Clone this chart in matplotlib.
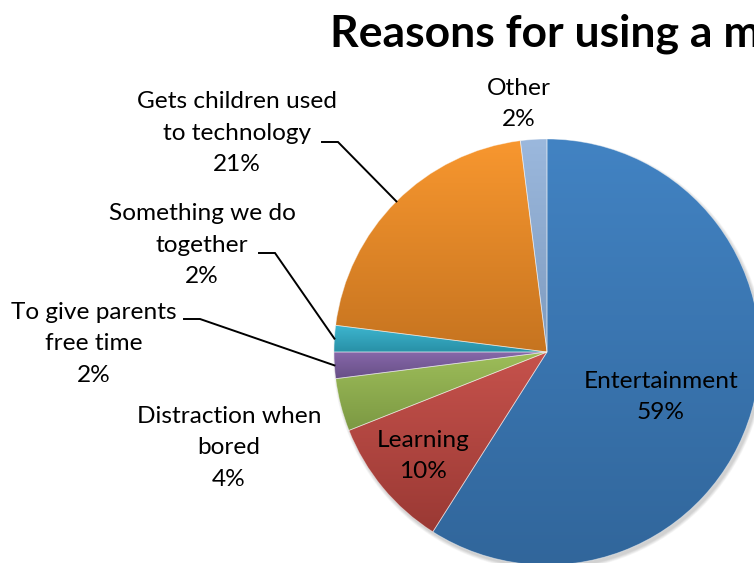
import numpy as np
import matplotlib
matplotlib.use("Agg")
from matplotlib import pyplot as plt
from matplotlib.colors import LinearSegmentedColormap
from matplotlib.patches import Circle

labels = ["Entertainment", "Learning", "Distraction when\nbored",
          "To give parents\nfree time", "Something we do\ntogether",
          "Gets children used\nto technology", "Other"]
values = [59, 10, 4, 2, 2, 21, 2]
# light (top) / dark (bottom) shade of each slice
tops = ["#4283c3", "#c6524c", "#9ebe5a", "#8668a9", "#3eb6d0", "#f8972f", "#9bb8dd"]
bottoms = ["#31669b", "#9a3934", "#7c9943", "#674e86", "#2890a6", "#c67420", "#7e9bbf"]

W, H = 754, 563
cx, cy, R = 547, H - 352, 213

plt.rcParams["font.family"] = ["Lato", "DejaVu Sans"]
fig = plt.figure(figsize=(W / 100, H / 100), dpi=100)
ax = fig.add_axes([0, 0, 1, 1])

# soft drop shadow
for k in range(6):
    ax.add_patch(Circle((cx + 2, cy - 3), R + 3 - k * 0.6, color="#000000",
                        alpha=0.03, lw=0, zorder=0))

wedges, _ = ax.pie(values, startangle=90, counterclock=False, center=(cx, cy),
                   radius=R, wedgeprops=dict(edgecolor=(1, 1, 1, 0.45), linewidth=0.6))

for w, c0, c1 in zip(wedges, tops, bottoms):
    w.set_facecolor("none")
    ext = w.get_path().get_extents()
    cmap = LinearSegmentedColormap.from_list("g", [c1, c0])
    grad = np.linspace(0, 1, 256).reshape(-1, 1)
    im = ax.imshow(grad, cmap=cmap, origin="lower", aspect="auto",
                   extent=(ext.x0, ext.x1, ext.y0, ext.y1), zorder=1,
                   interpolation="bilinear")
    im.set_clip_path(w)
    w.set_zorder(2)

ax.set_xlim(0, W)
ax.set_ylim(0, H)
ax.set_aspect("equal")
ax.axis("off")

def mid_point(w, r=R):
    a = np.deg2rad((w.theta1 + w.theta2) / 2)
    return cx + r * np.cos(a), cy + r * np.sin(a)

txt = [f"{l}\n{v}%" for l, v in zip(labels, values)]
fs = 17.6
ls = 1.63
# text block centres (x, y from top)
pos = [(661, 397), (423, 456), (229, 448), (94, 344), (202, 245), (237, 133), (519, 104)]
for t, (px, py) in zip(txt, pos):
    ax.text(px, H - py, t, ha="center", va="center", fontsize=fs,
            linespacing=ls, color="black", zorder=5)

# leader lines for the small outside labels
leaders = {3: (184, 200, 319), 4: (259, 275, 253), 5: (322, 338, 142)}
for i, (x0, x1, py) in leaders.items():
    ex, ey = mid_point(wedges[i])
    ax.plot([x0, x1, ex], [H - py, H - py, ey], color="black", lw=1.4,
            solid_joinstyle="miter", zorder=4)

ax.text(330, H - 47, "Reasons for using a mobile device", fontsize=32,
        fontweight="bold", ha="left", va="baseline", clip_on=False)

fig.savefig("out.png", dpi=100)
